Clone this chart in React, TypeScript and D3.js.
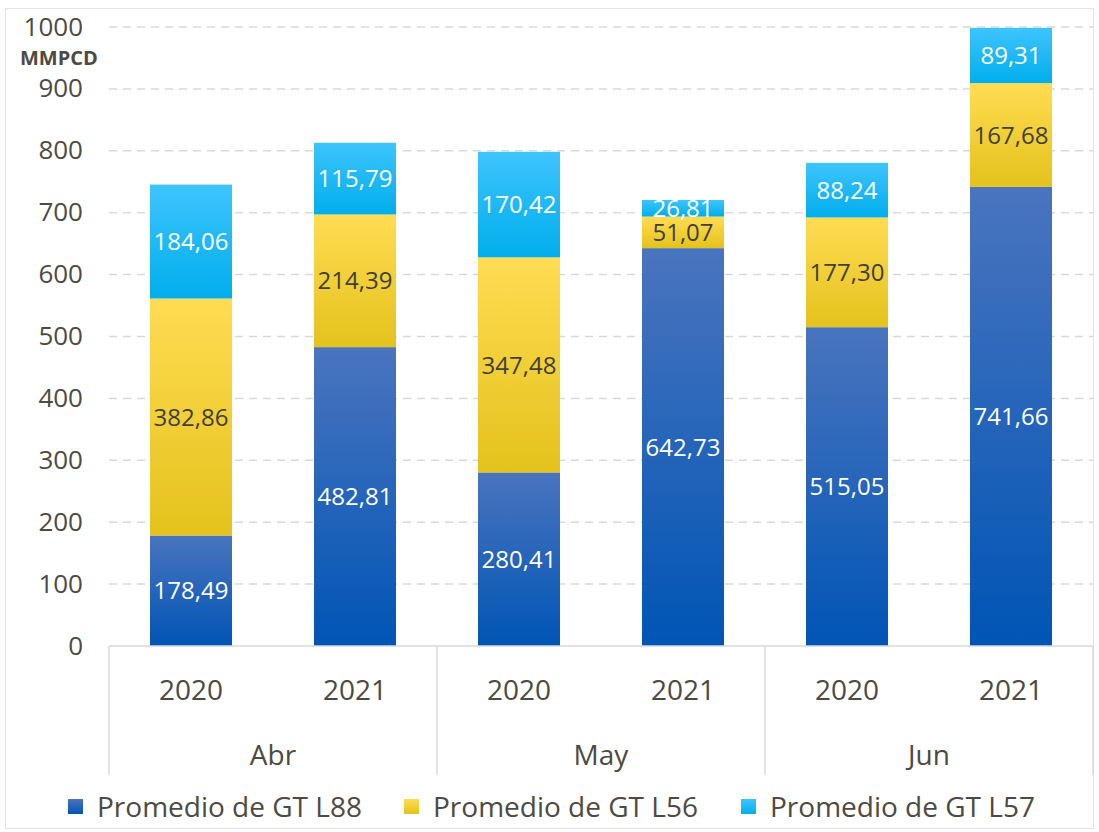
import React from 'react';
import * as d3 from 'd3';

const months = ['Abr', 'May', 'Jun'];
const years = ['2020', '2021'];
const seriesNames = ['Promedio de GT L88', 'Promedio de GT L56', 'Promedio de GT L57'];
const l88 = [178.49, 482.81, 280.41, 642.73, 515.05, 741.66];
const l56 = [382.86, 214.39, 347.48, 51.07, 177.3, 167.68];
const l57 = [184.06, 115.79, 170.42, 26.81, 88.24, 89.31];
const yTicks = [0, 100, 200, 300, 400, 500, 600, 700, 800, 900, 1000];

const gradients = [
  { id: 'gBlue', top: '#4A74BE', bottom: '#0055B5', label: '#ffffff' },
  { id: 'gYellow', top: '#FFDC52', bottom: '#E4C21C', label: '#3f3f3f' },
  { id: 'gCyan', top: '#3EC4FD', bottom: '#00AEEB', label: '#ffffff' },
];

const W = 1099, H = 832;
const left = 109, right = 1093, top = 27, bottom = 646;
const font = '"Open Sans", sans-serif';
const textColor = '#4d4a42';

export default function App() {
  const keys = months.flatMap(m => years.map(y => `${m}-${y}`));
  const x = d3.scaleBand<string>().domain(keys).range([left, right]).paddingInner(0.5).paddingOuter(0.25);
  const y = d3.scaleLinear().domain([0, 1000]).range([bottom, top]);
  const rows = keys.map((k, i) => ({ key: k, l88: l88[i], l56: l56[i], l57: l57[i] }));
  const stacked = d3.stack<any>().keys(['l88', 'l56', 'l57'])(rows);
  const fmt = (v: number) => v.toFixed(2).replace('.', ',');
  const monthW = (right - left) / months.length;

  return (
    <svg width={W} height={H} style={{ position: 'absolute', left: 0, top: 0 }}>
      <defs>
        {gradients.map(g => (
          <linearGradient key={g.id} id={g.id} x1="0" y1="0" x2="0" y2="1">
            <stop offset="0%" stopColor={g.top} />
            <stop offset="100%" stopColor={g.bottom} />
          </linearGradient>
        ))}
      </defs>
      <rect x={0} y={0} width={W} height={H} fill="#fff" />
      <rect x={5.5} y={8.5} width={1088} height={820} fill="none" stroke="#e3e3e0" />

      {yTicks.map(t => (
        <g key={t}>
          {t > 0 && (
            <line x1={left} x2={right} y1={y(t)} y2={y(t)} stroke="#d9d9d9" strokeWidth={1.5} strokeDasharray="8,6" />
          )}
          <text x={83} y={y(t)} dy="0.33em" textAnchor="end" fontFamily={font} fontSize={26} fill={textColor}>{t}</text>
        </g>
      ))}
      <text x={20} y={65} fontFamily={font} fontSize={20} fontWeight="bold" fill={textColor}>MMPCD</text>

      {stacked.map((s, si) => (
        <g key={s.key}>
          {s.map((d, i) => {
            const bx = x(keys[i]) as number;
            const y0 = y(d[0]), y1 = y(d[1]);
            return (
              <g key={i}>
                <rect x={bx} y={y1} width={x.bandwidth()} height={y0 - y1} fill={`url(#${gradients[si].id})`} />
                <text x={bx + x.bandwidth() / 2} y={(y0 + y1) / 2} dy="0.36em" textAnchor="middle"
                  fontFamily={font} fontSize={24} fill={gradients[si].label}>{fmt(d[1] - d[0])}</text>
              </g>
            );
          })}
        </g>
      ))}

      <line x1={left} x2={right} y1={bottom} y2={bottom} stroke="#d9d9d9" strokeWidth={1.5} />
      {d3.range(months.length + 1).map(i => (
        <line key={i} x1={left + i * monthW} x2={left + i * monthW} y1={bottom} y2={775} stroke="#d9d9d9" strokeWidth={1.5} />
      ))}
      {keys.map((k, i) => (
        <text key={k} x={(x(k) as number) + x.bandwidth() / 2} y={690} dy="0.36em" textAnchor="middle"
          fontFamily={font} fontSize={28} fill={textColor}>{years[i % 2]}</text>
      ))}
      {months.map((m, i) => (
        <text key={m} x={left + (i + 0.5) * monthW} y={755} dy="0.36em" textAnchor="middle"
          fontFamily={font} fontSize={28} fill={textColor}>{m}</text>
      ))}

      {seriesNames.map((n, i) => {
        const lx = [68, 404, 741][i];
        return (
          <g key={n}>
            <rect x={lx} y={799} width={15} height={15} fill={`url(#${gradients[i].id})`} />
            <text x={lx + 29} y={807} dy="0.36em" fontFamily={font} fontSize={28} fill={textColor}>{n}</text>
          </g>
        );
      })}
    </svg>
  );
}
